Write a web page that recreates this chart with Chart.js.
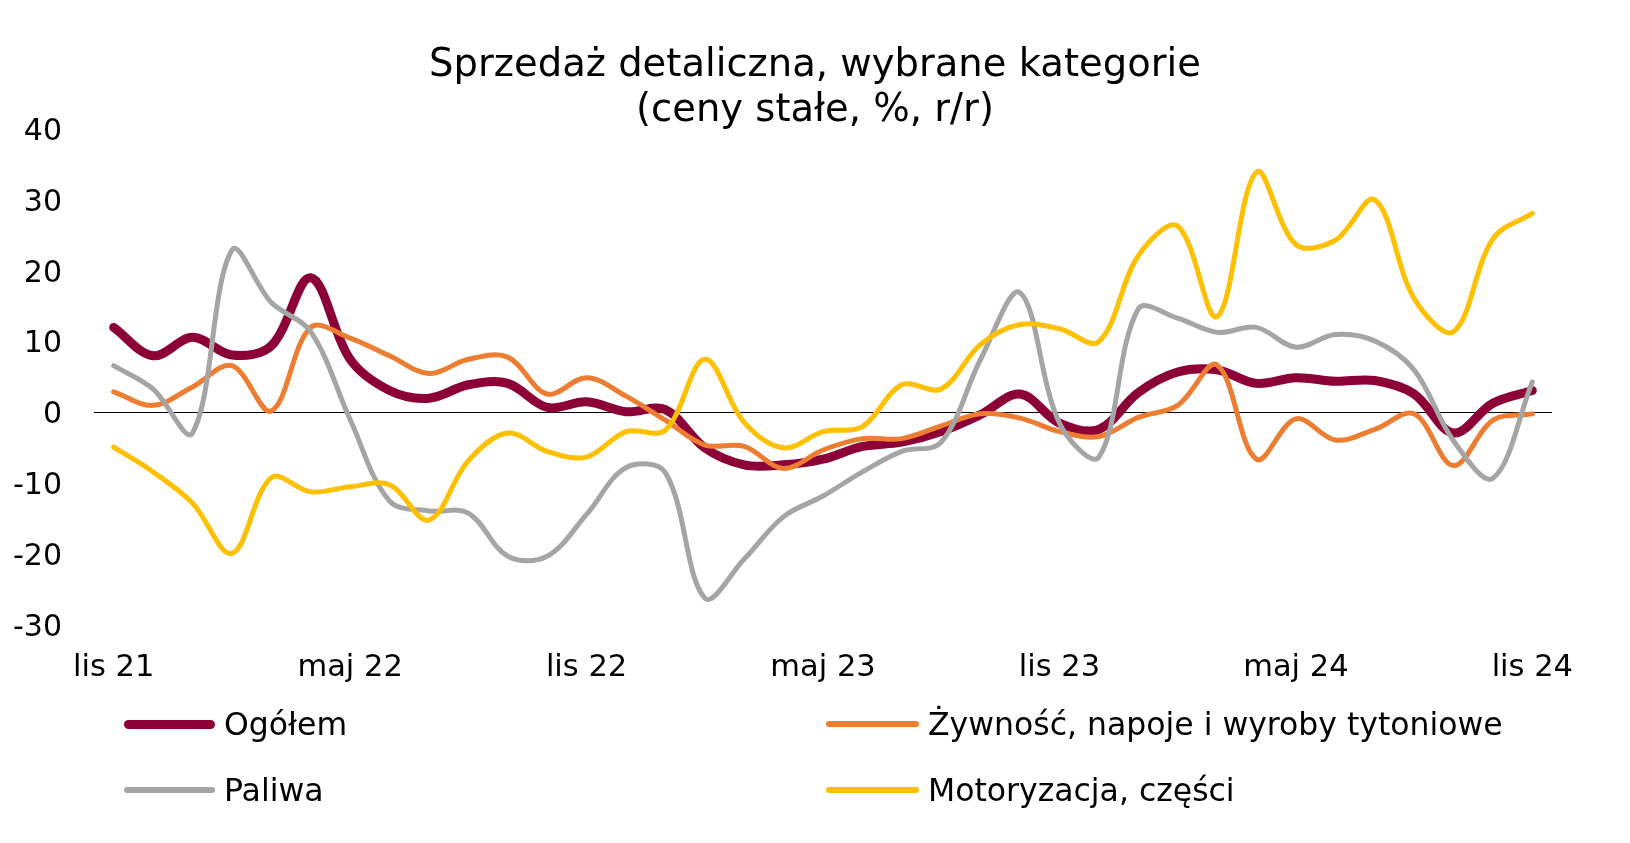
<!DOCTYPE html>
<html lang="pl">
<head>
<meta charset="utf-8">
<title>Sprzedaż detaliczna, wybrane kategorie</title>
<script src="https://cdn.jsdelivr.net/npm/chart.js@4.4.1/dist/chart.umd.min.js"></script>
<style>
    html, body { margin: 0; padding: 0; background: #fff; }
    #wrap { position: relative; width: 1630px; height: 843px; overflow: hidden; }
    #chart { position: absolute; left: 0; top: 0; }
    .lg-item { position: absolute; height: 40px; font: 31.5px "DejaVu Sans", Verdana, sans-serif; color: #000; white-space: nowrap; }
    .lg-line { position: absolute; left: 0; border-radius: 5px; }
    .lg-text { position: absolute; top: 0; line-height: 40px; }
</style>
</head>
<body>
<div id="wrap">
    <canvas id="chart" width="1630" height="843"></canvas>
    <div id="legend"></div>
</div>
<script>
const months = ['lis 21', 'gru 21', 'sty 22', 'lut 22', 'mar 22', 'kwi 22', 'maj 22', 'cze 22', 'lip 22', 'sie 22', 'wrz 22', 'paź 22',
                'lis 22', 'gru 22', 'sty 23', 'lut 23', 'mar 23', 'kwi 23', 'maj 23', 'cze 23', 'lip 23', 'sie 23', 'wrz 23', 'paź 23',
                'lis 23', 'gru 23', 'sty 24', 'lut 24', 'mar 24', 'kwi 24', 'maj 24', 'cze 24', 'lip 24', 'sie 24', 'wrz 24', 'paź 24',
                'lis 24'];

const ogolem      = [12.0, 8.0, 10.6, 8.1, 9.4, 19.0, 7.5, 3.1, 2.0, 3.9, 4.1, 0.7,
                     1.5, 0.1, 0.4, -5.0, -7.4, -7.4, -6.6, -4.8, -4.2, -2.7, -0.3, 2.6,
                     -1.5, -2.4, 2.8, 5.7, 6.0, 4.1, 4.9, 4.4, 4.5, 2.6, -2.9, 1.3, 3.1];
const zywnosc     = [2.9, 1.0, 3.6, 6.6, 0.2, 12.0, 10.5, 8.0, 5.5, 7.5, 7.8, 2.6,
                     4.9, 2.3, -1.1, -4.6, -4.8, -7.9, -5.3, -3.7, -3.7, -1.9, -0.2, -0.8,
                     -2.7, -3.4, -0.7, 1.0, 6.7, -6.6, -0.9, -3.9, -2.4, -0.2, -7.5, -1.1, -0.2];
const paliwa      = [6.6, 3.3, -2.9, 22.9, 15.5, 11.4, -1.0, -12.5, -13.9, -14.2, -20.3, -20.3,
                     -14.4, -7.8, -8.5, -26.2, -20.7, -14.7, -11.8, -8.4, -5.5, -4.2, 7.5, 16.9,
                     -1.5, -6.3, 14.6, 13.3, 11.3, 12.0, 9.2, 11.0, 10.1, 6.0, -4.0, -9.3, 4.3];
const motoryzacja = [-4.9, -8.4, -12.8, -19.9, -9.2, -11.2, -10.5, -10.2, -15.2, -6.8, -2.9, -5.5,
                     -6.3, -2.7, -2.5, 7.5, -1.4, -5.0, -2.7, -2.0, 3.9, 3.3, 9.6, 12.4,
                     11.8, 10.0, 22.1, 26.3, 13.5, 33.9, 23.7, 24.3, 30.0, 16.1, 11.4, 24.5, 28.1];

const seriesNames  = ['Ogółem', 'Żywność, napoje i wyroby tytoniowe', 'Paliwa', 'Motoryzacja, części'];
const seriesColors = ['#8C0037', '#ED7D31', '#A5A5A5', '#FFC000'];
const titleLines   = ['Sprzedaż detaliczna, wybrane kategorie', '(ceny stałe, %, r/r)'];

const FONT = '"DejaVu Sans", Verdana, sans-serif';

function series(i, data, width) {
    return {
        label: seriesNames[i],
        data,
        borderColor: seriesColors[i],
        backgroundColor: seriesColors[i],
        borderWidth: width,
        borderCapStyle: 'round',
        borderJoinStyle: 'round',
        pointRadius: 0,
        tension: 0.35,
        order: 4 - i,   // later series on top, like the original
    };
}

// center the title on the whole canvas, not on the padded layout box
const titleCenter = {
    id: 'titleCenter',
    afterLayout(chart) {
        if (chart.titleBlock) {
            chart.titleBlock.left = 0;
            chart.titleBlock.right = chart.width;
            chart.titleBlock.width = chart.width;
        }
    },
};

new Chart(document.getElementById('chart'), {
    type: 'line',
    data: {
        labels: months,
        datasets: [
            series(0, ogolem, 9),
            series(1, zywnosc, 5),
            series(2, paliwa, 5),
            series(3, motoryzacja, 5),
        ],
    },
    options: {
        responsive: false,
        animation: false,
        layout: { padding: { left: 0, right: 78, top: 0, bottom: 158 } },
        plugins: {
            legend: { display: false },
            tooltip: { enabled: false },
            title: {
                display: true,
                text: titleLines,
                color: '#000',
                font: { family: FONT, size: 38.5, weight: 'normal', lineHeight: '45px' },
                padding: { top: 43, bottom: -4 },
            },
        },
        scales: {
            x: {
                offset: true,
                grid: { display: false, drawTicks: false },
                border: { display: false },
                ticks: {
                    color: '#000',
                    font: { family: FONT, size: 30.5 },
                    padding: 25,
                    autoSkip: false,
                    maxRotation: 0,
                    minRotation: 0,
                    callback(val, i) { return i % 6 === 0 ? months[i] : ''; },
                },
                afterFit(scale) { scale.height = 60; },
            },
            y: {
                min: -30,
                max: 40,
                grid: {
                    drawTicks: false,
                    lineWidth: 1,
                    color: ctx => (ctx.tick && ctx.tick.value === 0 ? '#000' : 'rgba(0,0,0,0)'),
                },
                border: { display: false },
                ticks: {
                    stepSize: 10,
                    color: '#000',
                    font: { family: FONT, size: 30 },
                    padding: 32,
                    labelOffset: 3,
                },
                afterFit(scale) { scale.width = 94; },
            },
        },
    },
    plugins: [titleCenter],
});

// legend: two columns, two rows, as in the original
const legendPos = [
    { x: 124, y: 704, lineW: 91, thick: 9 },
    { x: 826, y: 704, lineW: 93, thick: 6 },
    { x: 124, y: 770, lineW: 91, thick: 6 },
    { x: 826, y: 770, lineW: 93, thick: 6 },
];
const legendEl = document.getElementById('legend');
seriesNames.forEach((name, i) => {
    const p = legendPos[i];
    const item = document.createElement('div');
    item.className = 'lg-item';
    item.style.left = p.x + 'px';
    item.style.top = p.y + 'px';
    item.innerHTML = `<div class="lg-line" style="top:${20 - p.thick / 2}px;width:${p.lineW}px;height:${p.thick}px;background:${seriesColors[i]}"></div>` +
                     `<div class="lg-text" style="left:${p.lineW + 9}px">${name}</div>`;
    legendEl.appendChild(item);
});
</script>
</body>
</html>
